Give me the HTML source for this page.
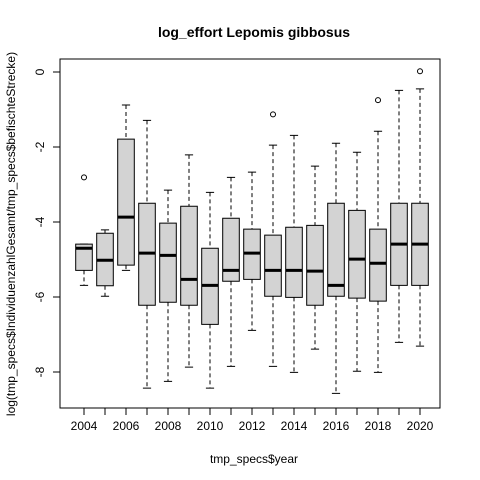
<!DOCTYPE html>
<html><head><meta charset="utf-8"><style>body{margin:0;background:#fff}svg{display:block;font-family:"Liberation Sans",sans-serif}</style></head>
<body>
<svg id="c" width="480" height="480">
<text x="254" y="37" text-anchor="middle" font-size="14" font-weight="bold">log_effort Lepomis gibbosus</text>
<text x="254" y="463" text-anchor="middle" font-size="12">tmp_specs$year</text>
<text transform="translate(15,234) rotate(-90)" text-anchor="middle" font-size="12">log(tmp_specs$IndividuenzahlGesamt/tmp_specs$befischteStrecke)</text>
<rect x="60" y="59" width="380" height="349" fill="none" stroke="#000"/>
<g id="g"></g>
</svg>
<script>
const years=[2004,2005,2006,2007,2008,2009,2010,2011,2012,2013,2014,2015,2016,2017,2018,2019,2020];
const lo=[-5.69,-5.98,-5.29,-8.43,-8.25,-7.87,-8.43,-7.85,-6.89,-7.85,-8.01,-7.39,-8.57,-7.98,-8.01,-7.21,-7.31];
const q1=[-5.29,-5.70,-5.15,-6.22,-6.14,-6.22,-6.73,-5.58,-5.53,-5.98,-6.01,-6.22,-5.98,-6.03,-6.11,-5.69,-5.69];
const med=[-4.70,-5.02,-3.87,-4.83,-4.89,-5.53,-5.69,-5.29,-4.83,-5.29,-5.29,-5.31,-5.69,-4.99,-5.10,-4.59,-4.59];
const q3=[-4.59,-4.30,-1.79,-3.50,-4.03,-3.58,-4.70,-3.90,-4.19,-4.35,-4.14,-4.09,-3.50,-3.69,-4.19,-3.50,-3.50];
const hi=[-4.59,-4.21,-0.88,-1.29,-3.15,-2.21,-3.21,-2.81,-2.67,-1.95,-1.69,-2.51,-1.90,-2.14,-1.58,-0.49,-0.45];
const outYear=[2004,2013,2018,2020];
const outVal=[-2.81,-1.13,-0.75,0.02];
const yTicks=[0,-2,-4,-6,-8];
const xTickYears=[2004,2006,2008,2010,2012,2014,2016,2018,2020];
const NS='http://www.w3.org/2000/svg',g=document.getElementById('g');
const X=yr=>84+(yr-years[0])*21;
const Y=v=>72-v*37.5;
function el(t,a){const e=document.createElementNS(NS,t);for(const k in a)e.setAttribute(k,a[k]);g.appendChild(e);return e;}
years.forEach((yr,i)=>{const x=X(yr),w=8.3,c=4.1;
 let e;
 e=el('line',{x1:x,x2:x,y1:Y(hi[i]),y2:Y(q3[i]),stroke:'#000','stroke-dasharray':'4,3'});
 
 e=el('line',{x1:x,x2:x,y1:Y(q1[i]),y2:Y(lo[i]),stroke:'#000','stroke-dasharray':'4,3'});
 
 e=el('line',{x1:x-c,x2:x+c,y1:Y(hi[i]),y2:Y(hi[i]),stroke:'#000'});
 
 e=el('line',{x1:x-c,x2:x+c,y1:Y(lo[i]),y2:Y(lo[i]),stroke:'#000'});
 
 e=el('rect',{x:x-w,y:Y(q3[i]),width:2*w,height:Y(q1[i])-Y(q3[i]),fill:'#d3d3d3',stroke:'#000'});
 
 e=el('line',{x1:x-w,x2:x+w,y1:Y(med[i]),y2:Y(med[i]),stroke:'#000','stroke-width':3});
 
 e=el('line',{x1:x,x2:x,y1:408,y2:415,stroke:'#000'});
 
});
outYear.forEach((yr,i)=>{const e=el('circle',{cx:X(yr),cy:Y(outVal[i]),r:2.5,fill:'none',stroke:'#000'});
 });
xTickYears.forEach(yr=>{const e=el('text',{x:X(yr),y:430,'text-anchor':'middle','font-size':12});e.textContent=yr;
 });
yTicks.forEach(v=>{let e=el('line',{x1:53,x2:60,y1:Y(v),y2:Y(v),stroke:'#000'});
 
 e=el('text',{transform:`translate(44,${Y(v)}) rotate(-90)`,'text-anchor':'middle','font-size':12});e.textContent=v;
 });
</script>
</body></html>
